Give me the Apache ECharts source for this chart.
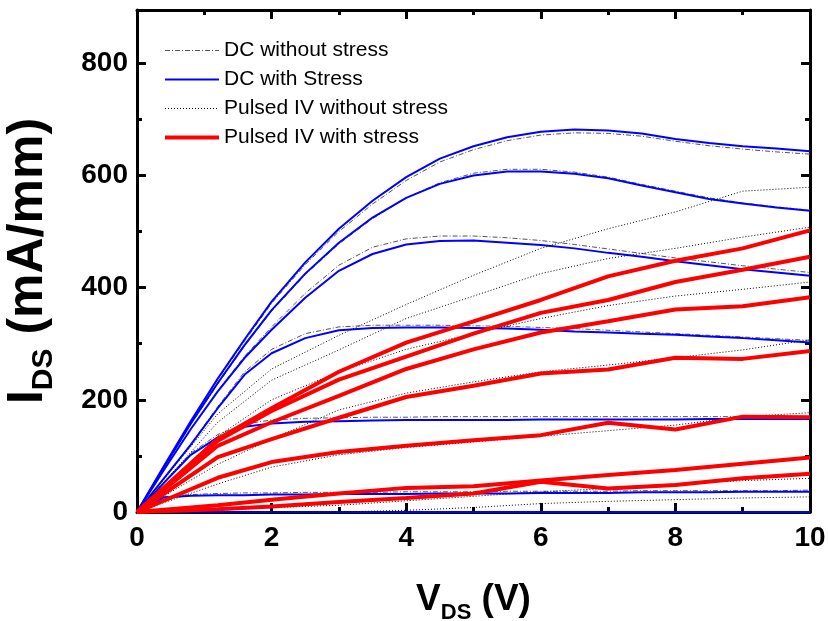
<!DOCTYPE html>
<html>
<head>
<meta charset="utf-8">
<script src="https://cdn.jsdelivr.net/npm/echarts@6/dist/echarts.min.js"></script>
<style>
  html, body { margin: 0; padding: 0; background: #fff; }
  #chart { width: 828px; height: 621px; }
</style>
</head>
<body>
<div id="chart"></div>
<script>
// Drain voltage sweeps (V)
const vdsDC = [0, 0.4, 0.8, 1.2, 1.6, 2, 2.5, 3, 3.5, 4, 4.5, 5, 5.5, 6, 6.5, 7, 7.5, 8, 8.5, 9, 9.5, 10];
const vdsPulsed = [0, 1.2, 2, 3, 4, 5, 6, 7, 8, 9, 10];

// DC without stress, one curve per gate step (mA/mm)
const dcNoStress1 = [0, 81, 160, 236, 305, 372, 441, 500, 549, 591, 624, 646, 662, 672, 676, 675, 670, 661, 653, 647, 642, 638];
const dcNoStress2 = [0, 79, 156, 228, 296, 358, 423, 478, 523, 560, 587, 604, 611, 611, 606, 597, 584, 572, 560, 551, 544, 538];
const dcNoStress3 = [0, 75, 148, 216, 278, 330, 390, 440, 472, 487, 492, 492, 489, 484, 477, 469, 461, 453, 446, 439, 433, 427];
const dcNoStress4 = [0, 60, 121, 188, 250, 290, 318, 330, 333, 333, 333, 332, 331, 329, 327, 324, 321, 318, 315, 312, 309, 306];
const dcNoStress5 = [0, 53, 105, 138, 157, 164, 167, 168, 169, 169, 170, 170, 170, 170, 170, 170, 170, 170, 170, 170, 170, 170];
const dcNoStress6 = [0, 27, 31, 33, 34, 34, 35, 35, 35, 36, 36, 36, 37, 37, 37, 37, 38, 38, 38, 38, 38, 39];
const dcNoStress7 = [0, 0, 0, 0, 0, 0, 0, 0, 0, 0, 0, 0, 0, 0, 0, 0, 0, 0, 0, 0, 0, 0];

// DC with stress
const dcStress1 = [0, 82, 162, 238, 308, 375, 445, 505, 555, 597, 630, 652, 668, 678, 682, 680, 675, 665, 658, 652, 648, 643];
const dcStress2 = [0, 80, 158, 230, 298, 360, 425, 480, 525, 560, 585, 600, 607, 607, 603, 595, 582, 570, 558, 550, 543, 537];
const dcStress3 = [0, 75, 148, 215, 275, 325, 382, 430, 460, 477, 483, 484, 480, 476, 470, 462, 455, 447, 440, 433, 427, 421];
const dcStress4 = [0, 60, 120, 185, 245, 283, 310, 324, 328, 329, 329, 328, 327, 325, 322, 320, 318, 316, 313, 310, 306, 302];
const dcStress5 = [0, 52, 102, 133, 152, 158, 161, 162, 163, 164, 164, 164, 164, 165, 165, 165, 165, 165, 166, 166, 166, 166];
const dcStress6 = [0, 26, 29, 30, 30, 31, 31, 32, 32, 32, 33, 33, 33, 34, 34, 34, 35, 35, 35, 36, 36, 36];
const dcStress7 = [0, 0, 0, 0, 0, 0, 0, 0, 0, 0, 0, 0, 0, 0, 0, 0, 0, 0, 0, 0, 0, 0];

// Pulsed IV without stress
const pulsedNoStress1 = [0, 175, 255, 315, 370, 422, 470, 505, 535, 572, 579];
const pulsedNoStress2 = [0, 160, 235, 289, 345, 385, 425, 452, 470, 490, 508];
const pulsedNoStress3 = [0, 135, 200, 250, 290, 318, 345, 368, 385, 397, 410];
const pulsedNoStress4 = [0, 85, 130, 182, 212, 232, 250, 262, 275, 289, 307];
const pulsedNoStress5 = [0, 50, 80, 102, 115, 125, 135, 145, 155, 170, 177];
const pulsedNoStress6 = [0, 0, 0, 0, 3, 8, 15, 19, 22, 25, 27];
const pulsedNoStress7 = [0, 5, 8, 12, 20, 28, 36, 42, 50, 56, 60];

// Pulsed IV with stress
const pulsedStress1 = [0, 130, 185, 250, 302, 340, 378, 420, 448, 470, 502];
const pulsedStress2 = [0, 127, 180, 236, 277, 318, 355, 378, 410, 432, 455];
const pulsedStress3 = [0, 118, 160, 207, 255, 290, 320, 340, 361, 367, 383];
const pulsedStress4 = [0, 98, 130, 168, 205, 225, 247, 254, 275, 273, 287];
const pulsedStress5 = [0, 61, 89, 107, 118, 128, 137, 159, 147, 170, 169];
const pulsedStress6 = [0, 12, 22, 33, 43, 46, 56, 66, 75, 86, 97];
const pulsedStress7 = [0, 5, 10, 18, 25, 33, 54, 42, 48, 60, 68];

const legendNames = ['DC without stress', 'DC with Stress', 'Pulsed IV without stress', 'Pulsed IV with stress'];

const groups = [
  { name: legendNames[0], x: vdsDC, curves: [dcNoStress1, dcNoStress2, dcNoStress3, dcNoStress4, dcNoStress5, dcNoStress6, dcNoStress7],
    line: { color: '#555555', width: 1, type: [5, 2, 1, 2] } },
  { name: legendNames[1], x: vdsDC, curves: [dcStress1, dcStress2, dcStress3, dcStress4, dcStress5, dcStress6, dcStress7],
    line: { color: '#0000ff', width: 2, type: 'solid' } },
  { name: legendNames[2], x: vdsPulsed, curves: [pulsedNoStress1, pulsedNoStress2, pulsedNoStress3, pulsedNoStress4, pulsedNoStress5, pulsedNoStress6, pulsedNoStress7],
    line: { color: '#000000', width: 1, type: [1, 2] } },
  { name: legendNames[3], x: vdsPulsed, curves: [pulsedStress1, pulsedStress2, pulsedStress3, pulsedStress4, pulsedStress5, pulsedStress6, pulsedStress7],
    line: { color: '#ff0000', width: 4, type: 'solid' } }
];

const series = [];
groups.forEach(function (g, gi) {
  g.curves.forEach(function (vals) {
    series.push({
      name: g.name,
      type: 'line',
      data: vals.map(function (v, i) { return [g.x[i], v]; }),
      showSymbol: false,
      symbol: 'none',
      clip: false,
      z: 2 + gi,
      lineStyle: g.line,
      itemStyle: { color: g.line.color },
      emphasis: { disabled: true }
    });
  });
});

const boldFont = "'Liberation Sans', Arial, sans-serif";
const frameLine = { show: true, onZero: false, lineStyle: { color: '#000', width: 3 } };
const majorTick = { show: true, inside: true, length: 9, lineStyle: { color: '#000', width: 3 } };
const minorTick = { show: true, splitNumber: 2, length: 5, lineStyle: { color: '#000', width: 3 } };

const chart = echarts.init(document.getElementById('chart'), null, { renderer: 'canvas' });
chart.setOption({
  animation: false,
  backgroundColor: '#ffffff',
  grid: { left: 137, right: 18, top: 10, bottom: 109, outerBoundsMode: 'none', containLabel: false },
  legend: {
    data: legendNames,
    orient: 'vertical',
    left: 163,
    top: 40,
    padding: 0,
    itemGap: 8,
    itemWidth: 54,
    itemHeight: 14,
    itemStyle: { opacity: 0 },
    lineStyle: { width: 'inherit', type: 'inherit', color: 'inherit' },
    textStyle: { fontFamily: boldFont, fontSize: 21, color: '#000' }
  },
  xAxis: [{
    type: 'value', min: 0, max: 10, interval: 2,
    axisLine: frameLine, axisTick: majorTick, minorTick: minorTick,
    splitLine: { show: false },
    axisLabel: { fontFamily: boldFont, fontWeight: 'bold', fontSize: 28, color: '#000', margin: 12 },
    name: '{v|V}{s|DS}{v| (V)}',
    nameLocation: 'middle',
    nameGap: 64,
    nameTextStyle: {
      rich: {
        v: { fontFamily: boldFont, fontWeight: 'bold', fontSize: 37, color: '#000' },
        s: { fontFamily: boldFont, fontWeight: 'bold', fontSize: 22, color: '#000', padding: [26, 0, 0, 0] }
      }
    }
  }, {
    type: 'value', min: 0, max: 10, interval: 2, position: 'top',
    axisLine: frameLine, axisTick: majorTick, minorTick: minorTick,
    splitLine: { show: false },
    axisLabel: { show: false }
  }],
  yAxis: [{
    type: 'value', min: 0, max: 895, interval: 200,
    axisLine: frameLine, axisTick: majorTick, minorTick: minorTick,
    splitLine: { show: false },
    axisLabel: { fontFamily: boldFont, fontWeight: 'bold', fontSize: 28, color: '#000', margin: 9, showMaxLabel: false },
    name: '{v|I}{s|DS}{v| (mA/mm)}',
    nameLocation: 'middle',
    nameGap: 78,
    nameTextStyle: {
      rich: {
        v: { fontFamily: boldFont, fontWeight: 'bold', fontSize: 50, color: '#000' },
        s: { fontFamily: boldFont, fontWeight: 'bold', fontSize: 30, color: '#000', padding: [32, 0, 0, 0] }
      }
    }
  }, {
    type: 'value', min: 0, max: 895, interval: 200, position: 'right',
    axisLine: frameLine, axisTick: majorTick, minorTick: minorTick,
    splitLine: { show: false },
    axisLabel: { show: false }
  }],
  series: series
});
</script>
</body>
</html>
